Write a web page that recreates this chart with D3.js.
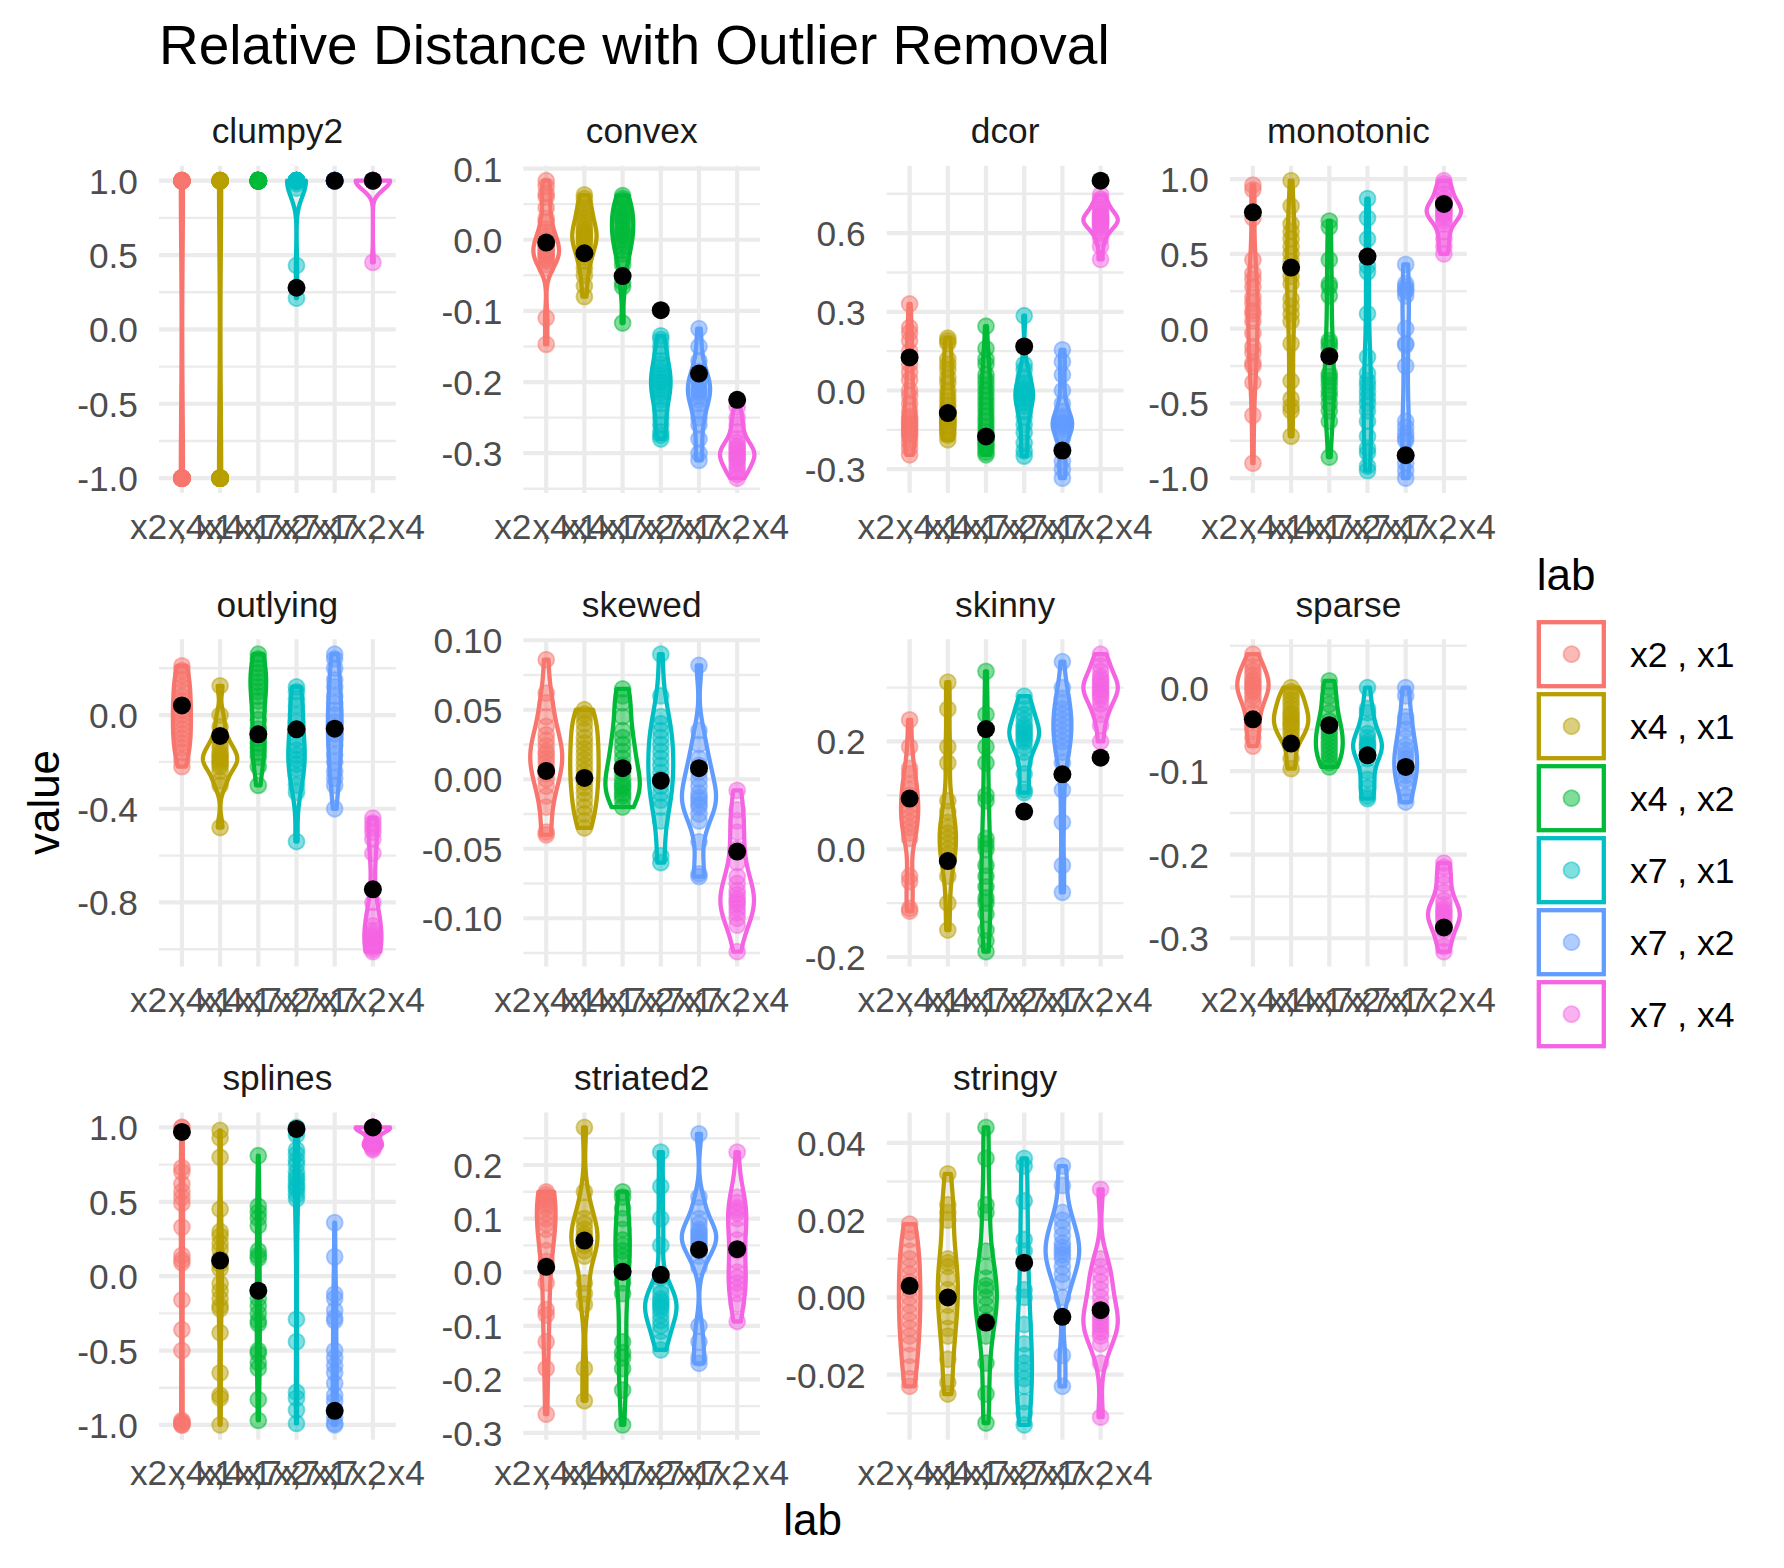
<!DOCTYPE html>
<html><head><meta charset="utf-8">
<script src="https://cdn.jsdelivr.net/npm/d3@7"></script>
<style>body{margin:0;background:#fff}svg text{font-family:"Liberation Sans",Arial,sans-serif}</style>
</head><body><svg id="c" width="1784" height="1568"></svg>
<script>
// ---------- data ----------
const labs = ["x2 , x1","x4 , x1","x4 , x2","x7 , x1","x7 , x2","x7 , x4"];
const colors = ["#F8766D","#B79F00","#00BA38","#00BFC4","#619CFF","#F564E3"];
const facetNames = ["clumpy2","convex","dcor","monotonic","outlying","skewed","skinny","sparse","splines","striated2","stringy"];

const clumpy2Values = [
  [1,1,1,1,1,1,1,1,1,1,-1,-1,-1,-1,-1,-1,-1,-1,-1,-1],
  [1,1,1,1,1,1,1,1,1,1,-1,-1,-1,-1,-1,-1,-1,-1,-1,-1],
  [1,1,1,1,1,1,1,1,1,1,1,1,1,1,1,1,1,1,1,1],
  [1,1,1,1,1,1,1,1,1,1,1,1,1,1,1,1,0.98,0.95,0.43,0.21],
  [1,1,1,1,1,1,1,1,1,1,1,1,1,1,1,1,1,1,1,1],
  [1,1,1,1,1,1,1,1,1,1,1,1,1,1,1,1,1,1,1,0.45]];
const clumpy2Black = [null,null,null,0.28,1.0,1.0];
const clumpy2Ticks = [-1,-0.5,0,0.5,1];
const clumpy2TickLabels = ["-1.0","-0.5","0.0","0.5","1.0"];

const convexValues = [
  [0.083,0.075,0.065,0.06,0.045,0.03,0.025,0.015,0.01,0.005,0.0,-0.005,-0.008,-0.01,-0.012,-0.015,-0.018,-0.02,-0.022,-0.025,-0.028,-0.03,-0.035,-0.04,-0.11,-0.147],
  [0.063,0.058,0.05,0.045,0.04,0.035,0.03,0.025,0.02,0.015,0.012,0.01,0.008,0.005,0.003,0.0,-0.003,-0.006,-0.01,-0.015,-0.02,-0.025,-0.03,-0.04,-0.05,-0.065,-0.08],
  [0.062,0.058,0.055,0.05,0.045,0.04,0.035,0.032,0.028,0.025,0.02,0.015,0.012,0.008,0.005,0.0,-0.005,-0.01,-0.015,-0.02,-0.028,-0.035,-0.06,-0.066,-0.117],
  [-0.135,-0.14,-0.15,-0.16,-0.17,-0.175,-0.18,-0.185,-0.19,-0.195,-0.2,-0.2,-0.205,-0.21,-0.215,-0.22,-0.225,-0.23,-0.24,-0.25,-0.26,-0.27,-0.275,-0.28],
  [-0.125,-0.15,-0.17,-0.185,-0.19,-0.195,-0.2,-0.205,-0.21,-0.212,-0.215,-0.22,-0.225,-0.23,-0.24,-0.25,-0.26,-0.28,-0.3,-0.31],
  [-0.235,-0.25,-0.26,-0.27,-0.28,-0.285,-0.29,-0.293,-0.296,-0.3,-0.302,-0.305,-0.308,-0.31,-0.315,-0.32,-0.325,-0.33,-0.335]];
const convexBlack = [-0.004,-0.019,-0.051,-0.099,-0.188,-0.225];
const convexTicks = [-0.3,-0.2,-0.1,0,0.1];
const convexTickLabels = ["-0.3","-0.2","-0.1","0.0","0.1"];

const dcorValues = [
  [0.33,0.24,0.22,0.19,0.15,0.1,0.07,0.04,0.0,-0.02,-0.05,-0.08,-0.1,-0.11,-0.12,-0.13,-0.14,-0.15,-0.16,-0.17,-0.18,-0.2,-0.22,-0.245],
  [0.2,0.19,0.18,0.12,0.1,0.08,0.05,0.03,0.0,-0.02,-0.04,-0.06,-0.08,-0.1,-0.11,-0.12,-0.13,-0.14,-0.15,-0.16,-0.17,-0.188],
  [0.245,0.16,0.12,0.1,0.06,0.04,0.02,0.0,-0.02,-0.04,-0.06,-0.08,-0.1,-0.12,-0.14,-0.16,-0.18,-0.19,-0.2,-0.21,-0.22,-0.235,-0.245],
  [0.285,0.1,0.08,0.05,0.03,0.02,0.01,0.0,-0.01,-0.02,-0.03,-0.04,-0.05,-0.06,-0.08,-0.1,-0.13,-0.16,-0.2,-0.23,-0.25],
  [0.155,0.11,0.06,0.0,-0.05,-0.08,-0.1,-0.11,-0.12,-0.125,-0.13,-0.14,-0.15,-0.16,-0.18,-0.22,-0.27,-0.3,-0.334],
  [0.746,0.73,0.71,0.7,0.69,0.68,0.67,0.665,0.66,0.655,0.65,0.645,0.64,0.635,0.63,0.62,0.61,0.6,0.58,0.55,0.5]];
const dcorBlack = [0.126,-0.086,-0.175,0.168,-0.229,0.80];
const dcorTicks = [-0.3,0,0.3,0.6];
const dcorTickLabels = ["-0.3","0.0","0.3","0.6"];

const monotonicValues = [
  [0.96,0.93,0.74,0.46,0.37,0.33,0.28,0.21,0.17,0.12,0.1,0.05,-0.03,-0.12,-0.16,-0.23,-0.25,-0.36,-0.58,-0.9],
  [0.99,0.82,0.7,0.65,0.6,0.55,0.5,0.45,0.4,0.35,0.3,0.2,0.15,0.1,0.05,-0.1,-0.35,-0.47,-0.52,-0.55,-0.72],
  [0.72,0.68,0.46,0.3,0.28,0.22,-0.08,-0.1,-0.13,-0.3,-0.32,-0.35,-0.38,-0.42,-0.45,-0.5,-0.55,-0.62,-0.86],
  [0.87,0.74,0.6,0.42,0.38,0.1,-0.19,-0.3,-0.35,-0.38,-0.42,-0.46,-0.5,-0.55,-0.62,-0.72,-0.8,-0.83,-0.92,-0.95],
  [0.43,0.3,0.28,0.26,0.25,0.22,0.0,-0.1,-0.11,-0.25,-0.62,-0.66,-0.7,-0.73,-0.75,-0.85,-0.9,-0.95,-1.0],
  [0.99,0.97,0.93,0.9,0.87,0.85,0.83,0.81,0.8,0.79,0.78,0.77,0.76,0.74,0.72,0.7,0.65,0.6,0.55,0.5]];
const monotonicBlack = [0.778,0.409,-0.184,0.482,-0.847,0.834];
const monotonicTicks = [-1,-0.5,0,0.5,1];
const monotonicTickLabels = ["-1.0","-0.5","0.0","0.5","1.0"];

const outlyingValues = [
  [0.21,0.19,0.17,0.15,0.12,0.1,0.08,0.06,0.04,0.02,0.0,-0.02,-0.04,-0.06,-0.08,-0.1,-0.12,-0.14,-0.16,-0.19,-0.22],
  [0.125,0.0,-0.05,-0.1,-0.12,-0.14,-0.16,-0.17,-0.18,-0.19,-0.2,-0.21,-0.22,-0.24,-0.28,-0.3,-0.48],
  [0.26,0.24,0.22,0.2,0.18,0.16,0.14,0.12,0.1,0.08,0.06,0.02,-0.02,-0.06,-0.1,-0.12,-0.14,-0.16,-0.18,-0.22,-0.3],
  [0.12,0.1,0.07,0.04,0.0,-0.03,-0.06,-0.1,-0.13,-0.15,-0.17,-0.19,-0.21,-0.23,-0.26,-0.3,-0.33,-0.54],
  [0.26,0.24,0.2,0.15,0.12,0.08,0.05,0.02,0.0,-0.03,-0.05,-0.08,-0.1,-0.13,-0.17,-0.2,-0.24,-0.27,-0.3,-0.4],
  [-0.44,-0.46,-0.48,-0.5,-0.53,-0.59,-0.8,-0.86,-0.9,-0.92,-0.93,-0.94,-0.95,-0.96,-0.97,-0.98,-0.99,-1.0,-1.01]];
const outlyingBlack = [0.041,-0.089,-0.082,-0.061,-0.058,-0.744];
const outlyingTicks = [-0.8,-0.4,0];
const outlyingTickLabels = ["-0.8","-0.4","0.0"];

const skewedValues = [
  [0.086,0.062,0.055,0.045,0.038,0.032,0.028,0.024,0.02,0.018,0.015,0.012,0.008,0.004,0.0,-0.005,-0.012,-0.02,-0.038,-0.04],
  [0.05,0.047,0.044,0.04,0.035,0.03,0.026,0.022,0.018,0.014,0.01,0.006,0.002,-0.002,-0.006,-0.01,-0.015,-0.02,-0.025,-0.03,-0.035],
  [0.065,0.06,0.055,0.045,0.035,0.03,0.025,0.02,0.015,0.01,0.005,0.0,-0.003,-0.005,-0.007,-0.01,-0.012,-0.015,-0.02],
  [0.09,0.06,0.045,0.04,0.035,0.03,0.025,0.02,0.015,0.01,0.005,0.0,-0.005,-0.01,-0.015,-0.02,-0.03,-0.055,-0.06],
  [0.082,0.035,0.025,0.015,0.01,0.005,0.0,-0.005,-0.01,-0.013,-0.015,-0.018,-0.02,-0.025,-0.03,-0.045,-0.068,-0.07],
  [-0.008,-0.022,-0.03,-0.038,-0.05,-0.06,-0.07,-0.075,-0.08,-0.083,-0.086,-0.088,-0.09,-0.093,-0.096,-0.1,-0.105,-0.124]];
const skewedBlack = [0.006,0.001,0.008,-0.001,0.008,-0.052];
const skewedTicks = [-0.1,-0.05,0,0.05,0.1];
const skewedTickLabels = ["-0.10","-0.05","0.00","0.05","0.10"];

const skinnyValues = [
  [0.24,0.19,0.15,0.14,0.12,0.11,0.1,0.09,0.08,0.07,0.06,0.05,0.04,0.03,0.02,-0.05,-0.06,-0.11,-0.115],
  [0.31,0.26,0.19,0.16,0.09,0.07,0.05,0.04,0.03,0.02,0.01,0.0,-0.01,-0.02,-0.05,-0.1,-0.15],
  [0.33,0.25,0.19,0.16,0.1,0.09,0.02,0.01,0.0,-0.03,-0.05,-0.07,-0.09,-0.1,-0.12,-0.15,-0.17,-0.19],
  [0.284,0.27,0.26,0.25,0.24,0.23,0.225,0.22,0.215,0.21,0.205,0.2,0.19,0.18,0.16,0.14,0.11,0.105],
  [0.348,0.3,0.28,0.27,0.26,0.25,0.24,0.23,0.22,0.21,0.2,0.19,0.18,0.16,0.11,0.05,-0.03,-0.08],
  [0.362,0.35,0.34,0.33,0.32,0.315,0.31,0.305,0.3,0.295,0.29,0.285,0.28,0.27,0.26,0.25,0.23,0.2]];
const skinnyBlack = [0.094,-0.022,0.223,0.07,0.139,0.17];
const skinnyTicks = [-0.2,0,0.2];
const skinnyTickLabels = ["-0.2","0.0","0.2"];

const sparseValues = [
  [0.04,0.03,0.025,0.02,0.015,0.01,0.007,0.004,0.001,-0.002,-0.005,-0.01,-0.015,-0.02,-0.03,-0.04,-0.05,-0.06,-0.07],
  [0.0,-0.005,-0.01,-0.015,-0.02,-0.025,-0.03,-0.033,-0.036,-0.04,-0.043,-0.046,-0.05,-0.055,-0.06,-0.065,-0.085,-0.097],
  [0.008,0.0,-0.01,-0.02,-0.03,-0.04,-0.045,-0.05,-0.055,-0.06,-0.065,-0.07,-0.075,-0.08,-0.085,-0.09,-0.095],
  [0.0,-0.025,-0.03,-0.045,-0.055,-0.06,-0.065,-0.068,-0.07,-0.073,-0.076,-0.08,-0.085,-0.1,-0.11,-0.12,-0.13,-0.133],
  [0.0,-0.01,-0.035,-0.04,-0.05,-0.06,-0.07,-0.075,-0.08,-0.085,-0.09,-0.095,-0.1,-0.105,-0.11,-0.12,-0.13,-0.137],
  [-0.21,-0.215,-0.225,-0.235,-0.245,-0.255,-0.26,-0.265,-0.268,-0.27,-0.273,-0.276,-0.28,-0.285,-0.29,-0.3,-0.31,-0.316]];
const sparseBlack = [-0.038,-0.067,-0.045,-0.081,-0.095,-0.287];
const sparseTicks = [-0.3,-0.2,-0.1,0];
const sparseTickLabels = ["-0.3","-0.2","-0.1","0.0"];

const splinesValues = [
  [1.0,1.0,0.73,0.7,0.62,0.57,0.53,0.49,0.33,0.14,0.11,0.09,-0.16,-0.36,-0.5,-0.97,-0.98,-0.99,-1.0,-1.0],
  [0.98,0.93,0.8,0.45,0.3,0.27,0.22,0.18,0.12,0.08,0.05,-0.05,-0.1,-0.15,-0.2,-0.22,-0.38,-0.65,-0.8,-0.82,-1.0],
  [0.81,0.47,0.43,0.39,0.34,0.17,0.14,0.12,-0.15,-0.2,-0.25,-0.3,-0.32,-0.5,-0.52,-0.58,-0.62,-0.83,-0.97],
  [1.0,0.98,0.95,0.85,0.82,0.78,0.75,0.7,0.67,0.65,0.62,0.6,0.58,0.55,0.52,-0.29,-0.44,-0.78,-0.82,-0.9,-0.99],
  [0.36,0.13,-0.12,-0.15,-0.23,-0.28,-0.3,-0.5,-0.55,-0.6,-0.65,-0.72,-0.8,-0.84,-0.9,-0.95,-0.99,-1.0],
  [1.0,1.0,1.0,1.0,1.0,1.0,1.0,1.0,1.0,1.0,0.98,0.95,0.93,0.91,0.9,0.89,0.88,0.87,0.86,0.85]];
const splinesBlack = [0.97,0.105,-0.097,0.99,-0.905,1.0];
const splinesTicks = [-1,-0.5,0,0.5,1];
const splinesTickLabels = ["-1.0","-0.5","0.0","0.5","1.0"];

const striated2Values = [
  [0.15,0.145,0.14,0.135,0.13,0.125,0.12,0.11,0.1,0.09,0.08,0.06,0.04,0.02,-0.02,-0.07,-0.08,-0.13,-0.18,-0.265],
  [0.27,0.15,0.12,0.1,0.09,0.08,0.07,0.065,0.06,0.055,0.05,0.04,0.03,-0.02,-0.04,-0.06,-0.18,-0.24],
  [0.15,0.14,0.12,0.1,0.08,0.06,0.05,0.04,0.03,0.02,0.0,-0.02,-0.04,-0.13,-0.15,-0.16,-0.18,-0.22,-0.285],
  [0.224,0.16,0.1,0.05,-0.01,-0.03,-0.04,-0.05,-0.055,-0.06,-0.065,-0.07,-0.08,-0.09,-0.1,-0.11,-0.13,-0.145],
  [0.258,0.14,0.12,0.1,0.09,0.08,0.075,0.07,0.065,0.06,0.055,0.05,0.04,0.03,0.01,-0.1,-0.13,-0.16,-0.17],
  [0.224,0.14,0.13,0.12,0.115,0.11,0.1,0.08,0.06,0.04,0.02,0.0,-0.01,-0.02,-0.03,-0.04,-0.06,-0.092]];
const striated2Black = [0.01,0.059,0.001,-0.005,0.042,0.043];
const striated2Ticks = [-0.3,-0.2,-0.1,0,0.1,0.2];
const striated2TickLabels = ["-0.3","-0.2","-0.1","0.0","0.1","0.2"];

const stringyValues = [
  [0.019,0.017,0.015,0.012,0.01,0.008,0.006,0.004,0.002,0.0,-0.002,-0.004,-0.006,-0.008,-0.01,-0.012,-0.015,-0.018,-0.021,-0.023],
  [0.032,0.024,0.022,0.02,0.01,0.009,0.008,0.005,0.002,0.0,-0.002,-0.005,-0.008,-0.01,-0.016,-0.022,-0.025],
  [0.044,0.036,0.024,0.022,0.012,0.008,0.005,0.003,0.002,0.0,-0.002,-0.004,-0.006,-0.01,-0.017,-0.025,-0.0325],
  [0.036,0.034,0.025,0.015,0.012,0.002,0.0,-0.007,-0.012,-0.015,-0.017,-0.019,-0.021,-0.023,-0.027,-0.03,-0.033],
  [0.034,0.029,0.022,0.02,0.018,0.016,0.014,0.013,0.012,0.011,0.01,0.008,0.006,0.004,0.0,-0.015,-0.023],
  [0.028,0.01,0.008,0.006,0.004,0.002,0.0,-0.002,-0.004,-0.005,-0.006,-0.007,-0.008,-0.009,-0.01,-0.012,-0.017,-0.031]];
const stringyBlack = [0.003,0.0,-0.0065,0.009,-0.005,-0.0033];
const stringyTicks = [-0.02,0,0.02,0.04];
const stringyTickLabels = ["-0.02","0.00","0.02","0.04"];

const facetValues = [clumpy2Values,convexValues,dcorValues,monotonicValues,outlyingValues,skewedValues,skinnyValues,sparseValues,splinesValues,striated2Values,stringyValues];
const facetBlack = [clumpy2Black,convexBlack,dcorBlack,monotonicBlack,outlyingBlack,skewedBlack,skinnyBlack,sparseBlack,splinesBlack,striated2Black,stringyBlack];
const facetTicks = [clumpy2Ticks,convexTicks,dcorTicks,monotonicTicks,outlyingTicks,skewedTicks,skinnyTicks,sparseTicks,splinesTicks,striated2Ticks,stringyTicks];
const facetTickLabels = [clumpy2TickLabels,convexTickLabels,dcorTickLabels,monotonicTickLabels,outlyingTickLabels,skewedTickLabels,skinnyTickLabels,sparseTickLabels,splinesTickLabels,striated2TickLabels,stringyTickLabels];

// ---------- layout ----------
const colLefts = [159, 523.3, 886.7, 1230];
const rowTops = [165.8, 639.3, 1112.6];
const PW = 236.8, PH = 327.2;
const TICK_FS = 35.3, GRID = "#EBEBEB";

const svg = d3.select("#c");
svg.append("rect").attr("width",1784).attr("height",1568).attr("fill","#fff");

function bwNrd0(a){
  const n=a.length, hi=d3.deviation(a);
  const s=a.slice().sort(d3.ascending);
  const iqr=d3.quantileSorted(s,0.75)-d3.quantileSorted(s,0.25);
  let lo=Math.min(hi,iqr/1.34);
  if(!lo) lo = hi || Math.abs(a[0]) || 1;
  return 0.9*lo*Math.pow(n,-0.2);
}
function kde(a){
  const bw=bwNrd0(a), [lo,hi]=d3.extent(a), N=512, out=[];
  const c=1/(a.length*bw*Math.sqrt(2*Math.PI));
  for(let k=0;k<N;k++){
    const t=lo+(hi-lo)*k/(N-1); let s=0;
    for(const v of a){const z=(t-v)/bw; s+=Math.exp(-0.5*z*z);}
    out.push({v:t,d:s*c});
  }
  return out;
}

facetNames.forEach((name,i)=>{
  const r=Math.floor(i/4), c=i%4;
  const left=colLefts[c], top=rowTops[r];
  const vals=facetValues[i], blacks=facetBlack[i], ticks=facetTicks[i], tl=facetTickLabels[i];
  const all=vals.flat().concat(blacks.filter(v=>v!=null));
  const [mn,mx]=d3.extent(all), sp=mx-mn;
  const y=d3.scaleLinear().domain([mn-0.05*sp, mx+0.05*sp]).range([top+PH, top]);
  const x=d3.scalePoint().domain(labs).range([left,left+PW]).padding(0.6);
  const g=svg.append("g");
  const [d0,d1]=y.domain();
  const step=ticks[1]-ticks[0];
  const minors=[ticks[0]-step/2].concat(ticks.map(t=>t+step/2)).filter(v=>v>=d0&&v<=d1);
  g.selectAll(".mn").data(minors).join("line")
    .attr("x1",left).attr("x2",left+PW).attr("y1",d=>y(d)).attr("y2",d=>y(d))
    .attr("stroke",GRID).attr("stroke-width",2.4);
  g.selectAll(".mj").data(ticks).join("line")
    .attr("x1",left).attr("x2",left+PW).attr("y1",d=>y(d)).attr("y2",d=>y(d))
    .attr("stroke",GRID).attr("stroke-width",4.2);
  g.selectAll(".vx").data(labs).join("line")
    .attr("x1",d=>x(d)).attr("x2",d=>x(d)).attr("y1",top).attr("y2",top+PH)
    .attr("stroke",GRID).attr("stroke-width",4.2);
  g.selectAll(".yt").data(ticks).join("text")
    .attr("x",left-21).attr("y",d=>y(d)+13).attr("text-anchor","end")
    .attr("font-size",TICK_FS).attr("fill","#4D4D4D").text((d,k)=>tl[k]);
  g.selectAll(".xt").data(labs).join("text")
    .attr("x",d=>x(d)).attr("y",top+PH+45.5).attr("text-anchor","middle")
    .attr("font-size",TICK_FS).attr("fill","#4D4D4D").text(d=>d);
  g.append("text").attr("x",left+PW/2).attr("y",top-22.5).attr("text-anchor","middle")
    .attr("font-size",TICK_FS).attr("fill","#1A1A1A").text(name);
  const dens=vals.map(a=> (d3.max(a)>d3.min(a)) ? kde(a) : null);
  const maxD=d3.max(dens.filter(Boolean).flat(),d=>d.d);
  dens.forEach((ds,k)=>{
    if(!ds) return;
    const cx=x(labs[k]), hw=d=>0.45*x.step()*d.d/maxD;
    const area=d3.area().y(d=>y(d.v)).x0(d=>cx-hw(d)).x1(d=>cx+hw(d));
    g.append("path").attr("d",area(ds)+"Z").attr("fill","none")
      .attr("stroke",colors[k]).attr("stroke-width",4.3).attr("stroke-linejoin","round");
  });
  vals.forEach((a,k)=>{
    g.append("g").selectAll("circle").data(a).join("circle")
      .attr("cx",x(labs[k])).attr("cy",d=>y(d)).attr("r",8)
      .attr("fill",colors[k]).attr("fill-opacity",0.5)
      .attr("stroke",colors[k]).attr("stroke-opacity",0.5).attr("stroke-width",1.8);
  });
  g.append("g").selectAll("circle").data(blacks.map((v,k)=>({v,k})).filter(d=>d.v!=null)).join("circle")
    .attr("cx",d=>x(labs[d.k])).attr("cy",d=>y(d.v)).attr("r",9).attr("fill","#000");
});

svg.append("text").attr("x",159).attr("y",64).attr("font-size",55).attr("fill","#000")
  .text("Relative Distance with Outlier Removal");
svg.append("text").attr("x",812.7).attr("y",1535).attr("text-anchor","middle")
  .attr("font-size",44).attr("fill","#000").text("lab");
svg.append("text").attr("transform","translate(59,802.5) rotate(-90)").attr("text-anchor","middle")
  .attr("font-size",44).attr("fill","#000").text("value");

const lg=svg.append("g");
lg.append("text").attr("x",1536.7).attr("y",590).attr("font-size",44).attr("fill","#000").text("lab");
labs.forEach((lab,k)=>{
  const top=618+72*k;
  lg.append("rect").attr("x",1538.8).attr("y",top+4.2).attr("width",65).attr("height",64)
    .attr("fill","none").attr("stroke",colors[k]).attr("stroke-width",4.3);
  lg.append("circle").attr("cx",1571.5).attr("cy",top+36.2).attr("r",8)
    .attr("fill",colors[k]).attr("fill-opacity",0.5)
    .attr("stroke",colors[k]).attr("stroke-opacity",0.5).attr("stroke-width",1.8);
  lg.append("text").attr("x",1630).attr("y",top+36.2+12.5).attr("font-size",35.5)
    .attr("fill","#000").text(lab);
});
</script></body></html>
